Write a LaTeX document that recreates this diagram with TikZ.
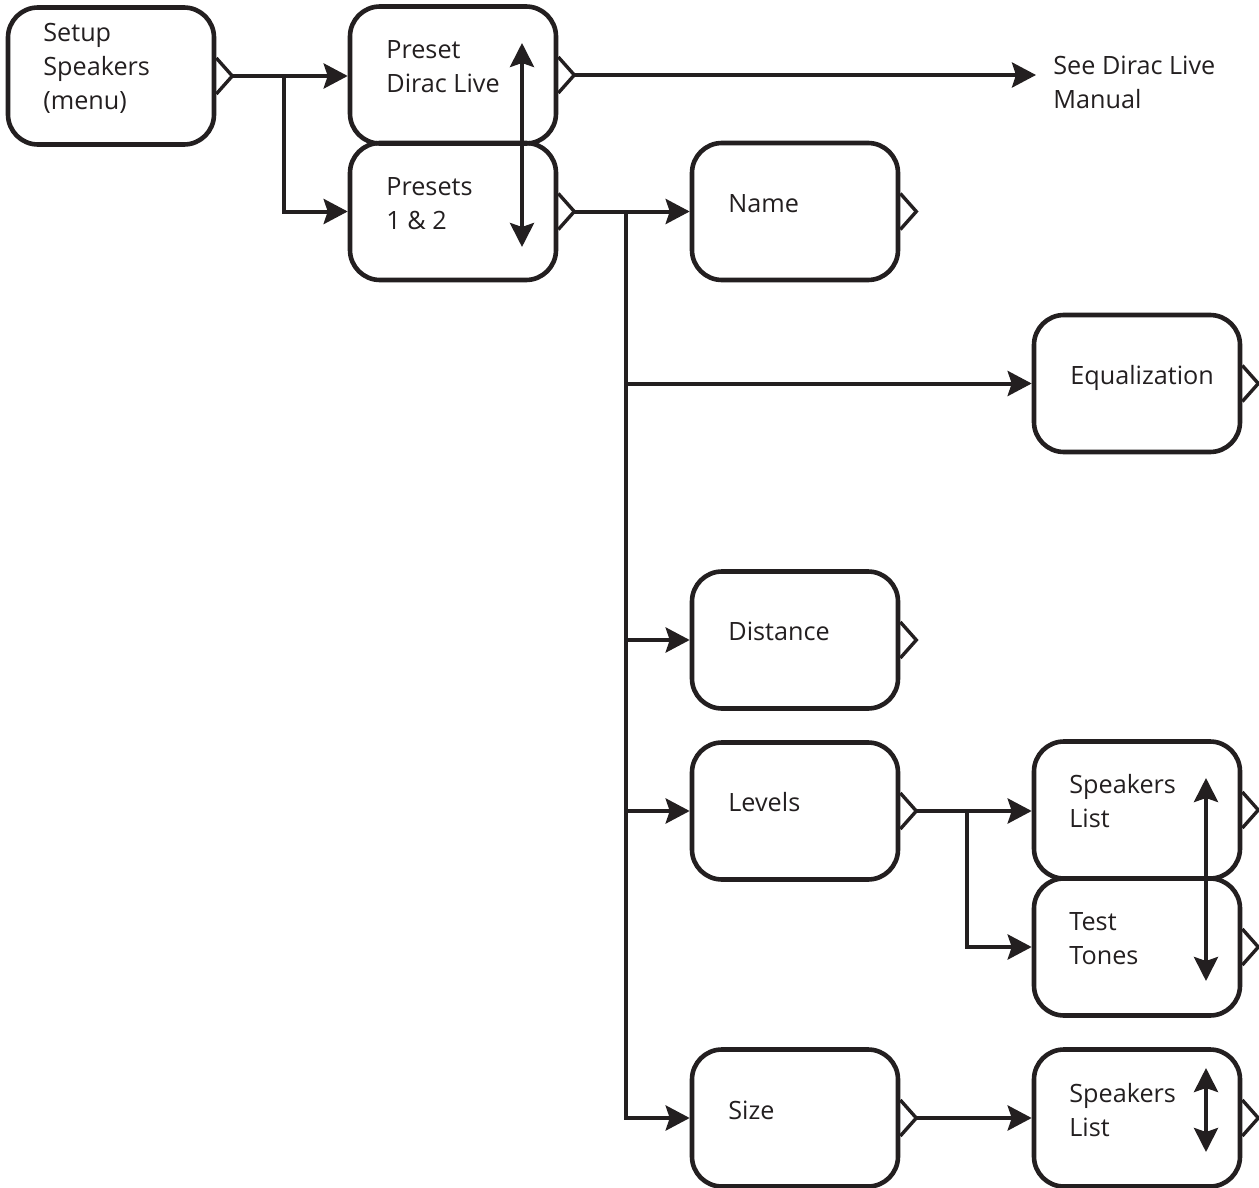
\documentclass[tikz,border=0pt]{standalone}
\usepackage{fontspec}
\setmainfont{Open Sans}
\usetikzlibrary{arrows.meta}
\definecolor{ink}{RGB}{35,31,32}
\tikzset{
  menubox/.style={draw=ink, line width=2.3pt, rounded corners=15pt,
    minimum width=103pt, minimum height=68.5pt, inner sep=0pt},
  txt/.style={anchor=base west, inner sep=0pt, text=ink,
    font=\fontsize{12.6}{17}\selectfont},
  tabline/.style={draw=ink, line width=1.7pt, line join=miter},
  conn/.style={draw=ink, line width=2pt, -{Stealth[length=12pt,width=12.5pt,inset=2pt]}},
  dbl/.style={draw=ink, line width=2pt, {Stealth[length=12pt,width=12pt,inset=2pt]}-{Stealth[length=12pt,width=12pt,inset=2pt]}}
}
\newcommand\mtab[1]{\draw[tabline] ([yshift=9pt]#1.east) -- ([xshift=8pt]#1.east) coordinate (#1-t) -- ([yshift=-9pt]#1.east);}
\begin{document}
\begin{tikzpicture}[x=0.5pt,y=-0.5pt]
\useasboundingbox (0,0) rectangle (1259,1188);
% boxes
\node[menubox] (setup) at (111,76) {};
\node[menubox] (pdl) at (453,75) {};
\node[menubox] (p12) at (453,211.5) {};
\node[menubox] (name) at (795,211.5) {};
\node[menubox] (eq) at (1137,383.5) {};
\node[menubox] (dist) at (795,640) {};
\node[menubox] (lev) at (795,811) {};
\node[menubox] (sla) at (1137,810) {};
\node[menubox] (tt) at (1137,947) {};
\node[menubox] (size) at (795,1118) {};
\node[menubox] (slb) at (1137,1118) {};
% tabs
\mtab{setup}\mtab{pdl}\mtab{p12}\mtab{name}\mtab{eq}\mtab{dist}
\mtab{lev}\mtab{sla}\mtab{tt}\mtab{size}\mtab{slb}
% texts
\node[txt] (t-setup) at (43,42) {\vtop{\hbox{Setup}\hbox{Speakers}\hbox{(menu)}}};
\node[txt] (t-pdl) at (386,59) {\vtop{\hbox{Preset}\hbox{Dirac Live}}};
\node[txt] (t-p12) at (386,196) {\vtop{\hbox{Presets}\hbox{1 \& 2}}};
\node[txt] (t-name) at (728,213) {Name};
\node[txt] (t-eq) at (1070,384) {Equalization};
\node[txt] (t-dist) at (728,640) {Distance};
\node[txt] (t-lev) at (728,811) {Levels};
\node[txt] (t-sla) at (1069,793) {\vtop{\hbox{Speakers}\hbox{List}}};
\node[txt] (t-tt) at (1069,930) {\vtop{\hbox{Test}\hbox{Tones}}};
\node[txt] (t-size) at (728,1119) {Size};
\node[txt] (t-slb) at (1069,1102) {\vtop{\hbox{Speakers}\hbox{List}}};
\node[txt] (t-man) at (1053,75) {\vtop{\hbox{See Dirac Live}\hbox{Manual}}};
% connectors
\coordinate (mref) at (1036,75);
\draw[conn] (setup-t) -- (setup-t -| pdl.west);
\path (setup-t) ++(52,0) coordinate (b1);
\draw[conn] (b1) |- (p12.west);
\draw[conn] (pdl-t) -- (pdl-t -| mref);
\draw[conn] (p12-t) -- (p12-t -| name.west);
\path (p12-t) ++(52,0) coordinate (b2);
\draw[conn] (b2) |- (eq.west);
\draw[conn] (b2) |- (dist.west);
\draw[conn] (b2) |- (lev.west);
\draw[conn] (b2) |- (size.west);
\draw[conn] (lev-t) -- (lev-t -| sla.west);
\path (lev-t) ++(51,0) coordinate (b3);
\draw[conn] (b3) |- (tt.west);
\draw[conn] (size-t) -- (size-t -| slb.west);
% scroll arrows
\coordinate (s1a) at (522,43); \coordinate (s1b) at (522,247);
\draw[dbl] (s1a) -- (s1b);
\coordinate (s2a) at (1206,778); \coordinate (s2b) at (1206,981);
\draw[dbl] (s2a) -- (s2b);
\coordinate (s3a) at (1206,1068); \coordinate (s3b) at (1206,1152);
\draw[dbl] (s3a) -- (s3b);
\end{tikzpicture}
\end{document}
